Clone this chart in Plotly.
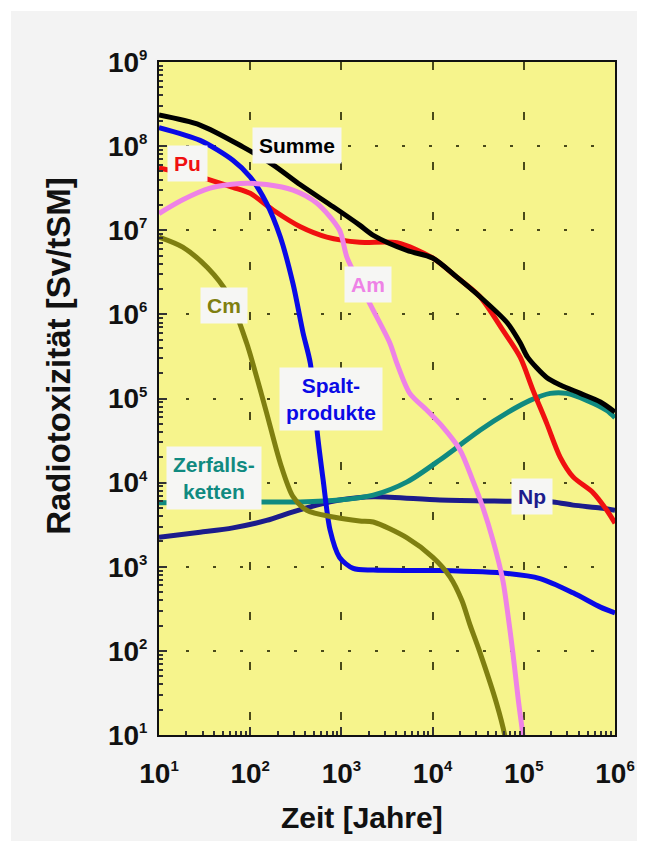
import plotly.graph_objects as go

# ---------------- data (years, Sv/tSM) ----------------
summe_t = [10, 28.2, 83, 178, 355, 813, 1585, 2239, 5250, 10000, 18600, 33100, 66100, 91200,
           110000, 178000, 251000, 417000, 692000, 1e6]
summe_v = [2.34e8, 1.78e8, 9.8e7, 6.0e7, 3.47e7, 1.9e7, 1.15e7, 8.7e6, 5.75e6, 4.68e6, 2.75e6,
           1.62e6, 7.9e5, 4.6e5, 3.1e5, 1.78e5, 1.45e5, 1.15e5, 9.1e4, 6.9e4]

spalt_t = [10, 28.2, 64.6, 100, 151, 214, 295, 380, 457, 550, 631, 750, 955, 1349, 2239,
           12000, 66100, 151000, 347000, 692000, 1e6]
spalt_v = [1.66e8, 1.17e8, 6.8e7, 4.3e7, 2.1e7, 8.3e6, 2.3e6, 6.0e5, 2.6e5, 3.5e4, 1.07e4,
           2.75e3, 1.29e3, 955, 912, 900, 832, 724, 490, 331, 282]

pu_t = [10, 30.2, 64.6, 100, 178, 355, 692, 1585, 4074, 10000, 18600, 33100, 58900, 91200,
        126000, 178000, 251000, 347000, 575000, 813000, 1e6]
pu_v = [5.5e7, 4.2e7, 3.24e7, 2.75e7, 1.74e7, 1.1e7, 8.3e6, 7.2e6, 7.1e6, 4.7e6, 2.75e6,
        1.62e6, 6.5e5, 3.1e5, 1.26e5, 5.1e4, 2.0e4, 1.17e4, 7.6e3, 4.7e3, 3.3e3]

am_t = [10, 18.2, 36.3, 77.6, 151, 295, 537, 955, 1148, 2042, 3388, 4074, 5623, 8710, 12900,
        20000, 27500, 35500, 45700, 58900, 66100, 75900, 87100, 97700, 110000]
am_v = [1.58e7, 2.3e7, 3.16e7, 3.6e7, 3.5e7, 3.0e7, 2.1e7, 1.0e7, 4.8e6, 1.35e6, 4.6e5, 2.6e5,
        1.15e5, 7.2e4, 4.6e4, 2.45e4, 1.07e4, 5.1e3, 2.1e3, 690, 300, 95, 26, 10, 3]

cm_t = [10, 18.2, 33.9, 56.2, 91.2, 107, 151, 214, 295, 417, 813, 1585, 2239, 5250, 10000,
        15500, 20900, 25700, 32400, 50100, 61700, 70000]
cm_v = [8.3e6, 6.3e6, 3.6e6, 1.78e6, 4.6e5, 2.6e5, 6.8e4, 1.7e4, 6.8e3, 4.7e3, 3.9e3, 3.5e3,
        3.4e3, 2.2e3, 1.3e3, 760, 400, 204, 102, 24, 10, 4]

zerf_t = [10, 138, 355, 955, 2239, 5250, 12000, 20000, 33100, 66100, 117000, 195000, 295000,
          490000, 813000, 1e6]
zerf_v = [5.75e3, 5.9e3, 5.9e3, 6.2e3, 7.1e3, 1.02e4, 1.86e4, 2.8e4, 4.2e4, 6.8e4, 9.5e4,
          1.15e5, 1.15e5, 9.5e4, 7.2e4, 5.9e4]

np_t = [10, 28.2, 64.6, 151, 295, 537, 955, 2239, 12000, 66100, 209000, 347000, 692000, 1e6]
np_v = [2.24e3, 2.57e3, 2.9e3, 3.55e3, 4.5e3, 5.4e3, 6.2e3, 6.8e3, 6.2e3, 6.0e3, 5.9e3, 5.4e3,
        5.0e3, 4.7e3]

x_ticks = [1e1, 1e2, 1e3, 1e4, 1e5, 1e6]
x_ticklabels = ["1", "2", "3", "4", "5", "6"]
y_ticks = [1e1, 1e2, 1e3, 1e4, 1e5, 1e6, 1e7, 1e8, 1e9]
y_ticklabels = ["1", "2", "3", "4", "5", "6", "7", "8", "9"]

x_title = "Zeit [Jahre]"
y_title = "Radiotoxizität [Sv/tSM]"

# ---------------- styling ----------------
FONT = "Liberation Sans, Arial, sans-serif"
C_SUM = "#000000"
C_SPALT = "#0a0ae6"
C_PU = "#f01010"
C_AM = "#ee82e6"
C_CM = "#7f7f10"
C_ZERF = "#108a80"
C_NP = "#1c1c8c"
LW = 5
TXT = "#111111"


def sup_label(base, e):
    return f"{base}<sup><span style='font-size:15px'>{e}</span></sup>"


fig = go.Figure()
# draw order: bottom -> top
for t, v, c in [(np_t, np_v, C_NP), (zerf_t, zerf_v, C_ZERF), (pu_t, pu_v, C_PU),
                (spalt_t, spalt_v, C_SPALT), (cm_t, cm_v, C_CM), (am_t, am_v, C_AM),
                (summe_t, summe_v, C_SUM)]:
    fig.add_trace(go.Scatter(x=t, y=v, mode="lines",
                             line=dict(color=c, width=LW, shape="spline", smoothing=0.8),
                             showlegend=False, hoverinfo="skip"))

# curve labels (log10 data coordinates)
labels = [
    ("Summe", 2.51, 8.01, C_SUM),
    ("Pu", 1.31, 7.79, C_PU),
    ("Am", 3.29, 6.35, C_AM),
    ("Cm", 1.71, 6.11, C_CM),
    ("Spalt-<br>produkte", 2.89, 4.99, C_SPALT),
    ("Zerfalls-<br>ketten", 1.60, 4.05, C_ZERF),
    ("Np", 5.09, 3.83, C_NP),
]
for txt, lx, ly, c in labels:
    fig.add_annotation(x=lx, y=ly, xref="x", yref="y", text=txt, showarrow=False,
                       font=dict(family=FONT, size=21, color=c, weight="bold"),
                       bgcolor="#f6f6f4", borderpad=6, align="center")

# axis titles
fig.add_annotation(x=-0.222, y=0.563, xref="paper", yref="paper", text=y_title,
                   textangle=-90, showarrow=False, xanchor="center", yanchor="middle",
                   font=dict(family=FONT, size=33, weight="bold", color=TXT))
fig.add_annotation(x=0.445, y=-0.123, xref="paper", yref="paper", text=x_title,
                   showarrow=False, xanchor="center", yanchor="middle",
                   font=dict(family=FONT, size=30, weight="bold", color=TXT))

# white page frame around the grey background
fig.add_shape(type="rect", xref="paper", yref="paper",
              x0=-159 / 456, x1=(648 - 159) / 456, y0=-117 / 673, y1=735 / 673,
              line=dict(color="white", width=22), fillcolor="rgba(0,0,0,0)", layer="below")

minor_x = [m * 10 ** d for d in range(1, 6) for m in range(2, 10)]
minor_y = [m * 10 ** d for d in range(1, 9) for m in range(2, 10)]

GRID = "#4a4a1a"
fig.update_layout(
    width=648, height=852,
    margin=dict(l=159, r=33, t=62, b=117),
    paper_bgcolor="#f3f3f3",
    plot_bgcolor="#f6f48c",
    font=dict(family=FONT, color=TXT),
    xaxis=dict(
        type="log", range=[1, 6],
        tickvals=x_ticks, ticktext=[sup_label("10", e) for e in x_ticklabels],
        tickfont=dict(family=FONT, size=28, weight="bold", color=TXT),
        ticklabelstandoff=12,
        ticks="inside", ticklen=8, tickwidth=2, tickcolor="#333333",
        showgrid=True, gridcolor=GRID, gridwidth=1.5, griddash="8px,42px",
        showline=True, linecolor=TXT, linewidth=2, mirror=True,
        minor=dict(tickvals=minor_x, ticks="inside", ticklen=4, tickcolor="#333333",
                   showgrid=False),
        zeroline=False,
    ),
    yaxis=dict(
        type="log", range=[1, 9],
        tickvals=y_ticks, ticktext=[sup_label("10", e) for e in y_ticklabels],
        tickfont=dict(family=FONT, size=28, weight="bold", color=TXT),
        ticklabelstandoff=4,
        ticks="inside", ticklen=8, tickwidth=2, tickcolor="#333333",
        showgrid=True, gridcolor=GRID, gridwidth=1.5, griddash="3px,24px",
        showline=True, linecolor=TXT, linewidth=2, mirror=True,
        minor=dict(tickvals=minor_y, ticks="inside", ticklen=4, tickcolor="#333333",
                   showgrid=False),
        zeroline=False,
    ),
)

fig.write_html("out.html")
